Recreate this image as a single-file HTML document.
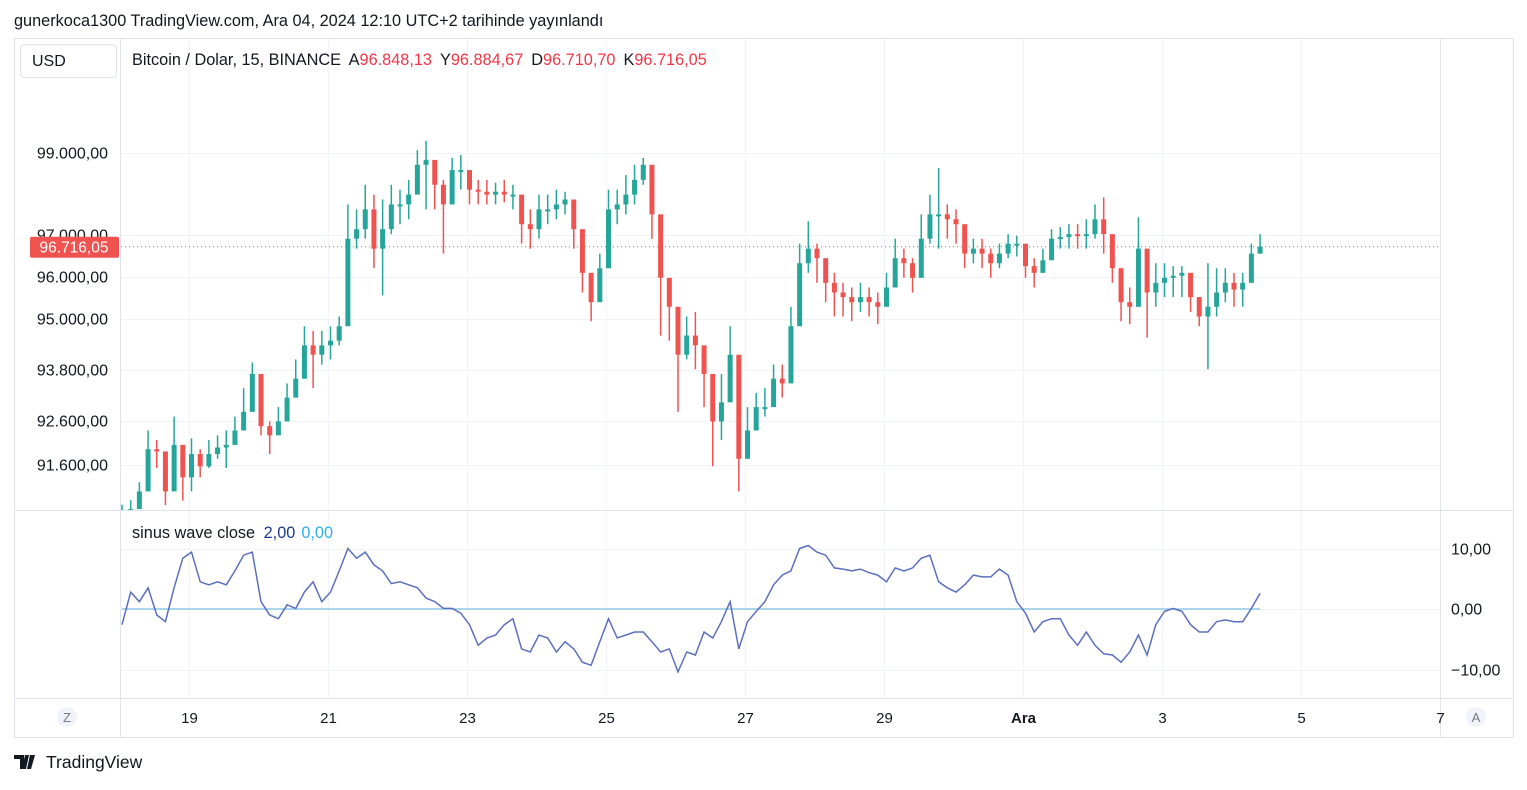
<!DOCTYPE html>
<html><head><meta charset="utf-8"><style>
body{margin:0;background:#fff;width:1527px;height:785px;overflow:hidden;font-family:"Liberation Sans",sans-serif;}
svg text{font-family:"Liberation Sans",sans-serif;}
</style></head><body>
<svg id="c" width="1527" height="785" xmlns="http://www.w3.org/2000/svg">
<defs><clipPath id="pc"><rect x="121" y="39" width="1319" height="471"/></clipPath>
<clipPath id="ic"><rect x="121" y="511" width="1319" height="187"/></clipPath></defs>
<text x="14" y="26" font-size="16.3" fill="#131722">gunerkoca1300 TradingView.com, Ara 04, 2024 12:10 UTC+2 tarihinde yayınlandı</text>
<rect x="14.5" y="38.5" width="1499" height="699" fill="#fff" stroke="#e0e3eb"/>
<g id="grid"></g>
<line x1="120.5" y1="38" x2="120.5" y2="737" stroke="#e0e3eb"/>
<line x1="1440.5" y1="38" x2="1440.5" y2="737" stroke="#e0e3eb"/>
<line x1="14" y1="510.5" x2="1513" y2="510.5" stroke="#e0e3eb"/>
<line x1="14" y1="698.5" x2="1513" y2="698.5" stroke="#e0e3eb"/>
<g id="candles" clip-path="url(#pc)"></g>
<g id="ind" clip-path="url(#ic)"></g>
<g id="labels"></g>
<rect x="20.5" y="44.5" width="96" height="33" rx="4" fill="#fff" stroke="#e0e3eb"/>
<text x="32" y="66" font-size="16" fill="#131722">USD</text>
<text x="132" y="65" font-size="16.3" fill="#131722">Bitcoin / Dolar, 15, BINANCE <tspan dx="4">A</tspan><tspan fill="#f23645">96.848,13</tspan><tspan dx="8">Y</tspan><tspan fill="#f23645">96.884,67</tspan><tspan dx="8">D</tspan><tspan fill="#f23645">96.710,70</tspan><tspan dx="8">K</tspan><tspan fill="#f23645">96.716,05</tspan></text>
<text x="132" y="538" font-size="16.3" fill="#131722">sinus wave close <tspan dx="4" fill="#1b3a8c">2,00</tspan><tspan dx="6" fill="#2eaeea">0,00</tspan></text>
<circle cx="67" cy="717" r="10" fill="#f0f3fa"/>
<text x="67" y="722" font-size="13" fill="#787b86" text-anchor="middle">Z</text>
<circle cx="1476" cy="717" r="10" fill="#f0f3fa"/>
<text x="1476" y="722" font-size="13" fill="#787b86" text-anchor="middle">A</text>
<g>
<path d="M14 755h10v14h-4v-10h-6zM25 755h4l-3 14h-4zM30 755h5l-4 14h-4z" fill="#131722"/>
<text x="46" y="768" font-size="17.5" fill="#131722">TradingView</text></g>
</svg>
<script>
const closes=[90500,90600,91000,91960,91910,91000,92060,91320,91850,91570,91850,92000,92060,92390,92820,93700,92490,92280,92600,93150,93590,94370,94150,94370,94480,94820,96910,97140,97620,96670,97140,97740,97740,97980,98710,98830,98220,97740,98580,98580,98100,98050,97980,98050,97980,97980,97260,97140,97620,97620,97740,97860,97140,96090,95390,96200,97620,97740,97980,98340,98710,97500,95970,95280,94150,94600,94370,93700,92600,93040,94150,91740,92390,92930,92930,93590,93480,94820,96320,96670,96440,95850,95620,95510,95390,95510,95390,95280,95740,96440,96320,95970,96910,97500,97500,97380,97260,96550,96670,96550,96320,96550,96790,96790,96250,96090,96390,96910,96950,97020,96980,97020,97380,97020,96200,95390,95280,96670,95620,95850,95970,96020,96090,95510,95050,95280,95620,95850,95690,95850,96550,96716];
const highs=[90700,90800,91210,92390,92170,91740,92710,91960,92210,91960,92170,92280,92390,92710,93370,93970,93370,92600,92930,93480,94040,94820,94710,94710,94820,95050,97740,97620,98220,97980,97860,98220,98100,98340,99070,99300,98710,98340,98880,98950,98460,98340,98340,98270,98340,98220,97860,97620,97980,97980,98100,98050,97740,96910,95970,96550,98100,98100,98460,98710,98880,97980,96670,95740,94820,95050,95160,94260,93370,93700,94820,92820,92930,93260,93370,93920,93920,95280,96790,97330,96790,96440,96090,95850,95740,95850,95740,95620,96090,96910,96670,96440,97500,97980,98630,97740,97620,97020,96910,96910,96670,96790,97020,96980,96670,96440,96670,97140,97190,97260,97260,97380,97740,97910,96790,96090,95740,97430,96200,96320,96320,96250,96250,95850,95510,96320,96200,96200,96090,96090,96790,97020];
const lows=[90300,90400,90600,91640,91530,90690,91110,90790,91000,91320,91530,91740,91530,92060,92490,93040,92280,91850,92280,92820,93260,93590,93370,93920,94040,94370,95510,96670,96910,96200,95550,97020,97260,97380,97980,97620,97620,96550,97860,98100,97740,97740,97740,97740,97790,97620,96790,96670,96910,97260,97380,97500,96670,95620,94940,95740,96910,97260,97500,97740,98220,96910,94600,94480,92820,94040,93810,92930,91570,92170,93260,91000,91850,92600,92710,93040,93150,94150,95510,96090,95850,95390,95050,95050,94940,95160,95050,94870,95390,95970,95970,95620,96320,96790,96670,96910,96790,96200,96320,96200,95970,96200,96440,96480,95970,95740,96090,96440,96670,96670,96670,96670,96910,96550,95850,94940,94870,95740,94550,95280,95510,95510,95510,95160,94820,93810,95050,95390,95280,95280,95970,96550];
const wave=[-2.6,2.8,1.2,3.5,-1,-2.1,3.5,8.4,9.4,4.5,4,4.5,4,6.3,8.9,9.4,1.2,-1,-1.6,0.7,0.1,2.8,4.5,1.2,2.8,6.3,10,8.4,9.4,7.3,6.3,4.2,4.5,4,3.5,1.8,1.2,0.1,0.1,-0.7,-2.6,-6,-4.8,-4.3,-2.6,-1.6,-6.6,-7.1,-4.3,-4.8,-7.1,-5.4,-6.6,-8.8,-9.3,-5.4,-1.6,-4.8,-4.3,-3.8,-3.8,-5.4,-7.1,-6.6,-10.4,-7.1,-7.6,-3.8,-4.8,-2.1,1.2,-6.6,-2.1,-0.4,1.2,4,5.6,6.3,10,10.5,9.4,8.9,6.8,6.6,6.3,6.6,6,5.6,4.5,6.8,6.3,6.8,8.4,8.9,4.5,3.5,2.8,4,5.6,5.3,5.3,6.6,5.6,1.2,-0.7,-3.8,-2.1,-1.6,-1.6,-4.3,-6,-3.8,-6,-7.4,-7.6,-8.8,-7.1,-4.3,-7.6,-2.6,-0.4,0.1,-0.4,-2.6,-3.8,-3.8,-2.1,-1.8,-2.1,-2.1,0.1,2.6];
const priceTicks=[99000,97000,96000,95000,93800,92600,91600];
const priceTickLabels=["99.000,00","97.000,00","96.000,00","95.000,00","93.800,00","92.600,00","91.600,00"];
const waveTicks=[10,0,-10];
const waveTickLabels=["10,00","0,00","−10,00"];
const dayTicks=[19,21,23,25,27,29,31,33,35,37];
const dayTickLabels=["19","21","23","25","27","29","Ara","3","5","7"];
const startDay=18.036, stepDay=0.125, lastPrice=96716.05;

const NS="http://www.w3.org/2000/svg";
function xAxis(d){return 189+(d-19)*69.5;}
function yPrice(p){return 153+4016*Math.log(99000/p);}
function yWave(v){return 609-v*6.05;}
function mk(tag,attrs,parent){const e=document.createElementNS(NS,tag);for(const k in attrs)e.setAttribute(k,attrs[k]);parent.appendChild(e);return e;}
const grid=document.getElementById('grid'),cg=document.getElementById('candles'),ig=document.getElementById('ind'),lg=document.getElementById('labels');
priceTicks.forEach((p,i)=>{const y=Math.round(yPrice(p))+0.5;
 const l=mk('line',{x1:121,x2:1440,y1:y,y2:y,stroke:'#f0f3fa'},grid);
 
 
 const t=mk('text',{x:108,y:y+5,'font-size':16,fill:'#131722','text-anchor':'end'},lg);t.textContent=priceTickLabels[i];
 
 });
waveTicks.forEach((v,i)=>{const y=Math.round(yWave(v))+0.5;
 const l=mk('line',{x1:121,x2:1440,y1:y,y2:y,stroke:'#f0f3fa'},grid);
 
 
 const t=mk('text',{x:1451,y:y+5,'font-size':16,fill:'#131722'},lg);t.textContent=waveTickLabels[i];
 
 });
dayTicks.forEach((d,i)=>{const x=Math.round(xAxis(d))+0.5;
 if(x<1440){const l=mk('line',{x1:x,x2:x,y1:39,y2:698,stroke:'#f0f3fa'},grid);
 
 }
 const t=mk('text',{x:x,y:723,'font-size':15,fill:'#131722','text-anchor':'middle','font-weight':dayTickLabels[i]==='Ara'?'bold':'normal'},lg);t.textContent=dayTickLabels[i];
 
 });
for(let i=0;i<closes.length;i++){
 const x=xAxis(startDay+i*stepDay);const o=i?closes[i-1]:closes[i]-100,c=closes[i];
 const col=c>=o?'#26a69a':'#ef5350';
 const w=mk('line',{x1:x,x2:x,y1:yPrice(highs[i]),y2:yPrice(lows[i]),stroke:col,'stroke-width':1.5},cg);
 
 
 const yt=Math.min(yPrice(o),yPrice(c)),h=Math.max(2,Math.abs(yPrice(o)-yPrice(c)));
 const b=mk('rect',{x:x-2.5,y:yt,width:5,height:h,fill:col},cg);
 
 }
const yl=yPrice(lastPrice);
const dl=mk('line',{x1:121,x2:1440,y1:yl,y2:yl,stroke:'#ef5350','stroke-dasharray':'1 3'},cg);


const lb=mk('rect',{x:30,y:yl-10,width:89,height:21,rx:2,fill:'#ef5350'},lg);


const lt=mk('text',{x:74,y:yl+6,'font-size':15.5,fill:'#fff','text-anchor':'middle'},lg);lt.textContent='96.716,05';


const x0=xAxis(startDay),x1=xAxis(startDay+(wave.length-1)*stepDay);
const zl=mk('line',{x1:x0,x2:x1,y1:yWave(0),y2:yWave(0),stroke:'#8fcbe6','stroke-width':1.5},ig);


const pts=wave.map((v,i)=>xAxis(startDay+i*stepDay).toFixed(1)+','+yWave(v).toFixed(1)).join(' ');
const pl=mk('polyline',{points:pts,fill:'none',stroke:'#5b70bd','stroke-width':1.5},ig);


</script>
</body></html>
